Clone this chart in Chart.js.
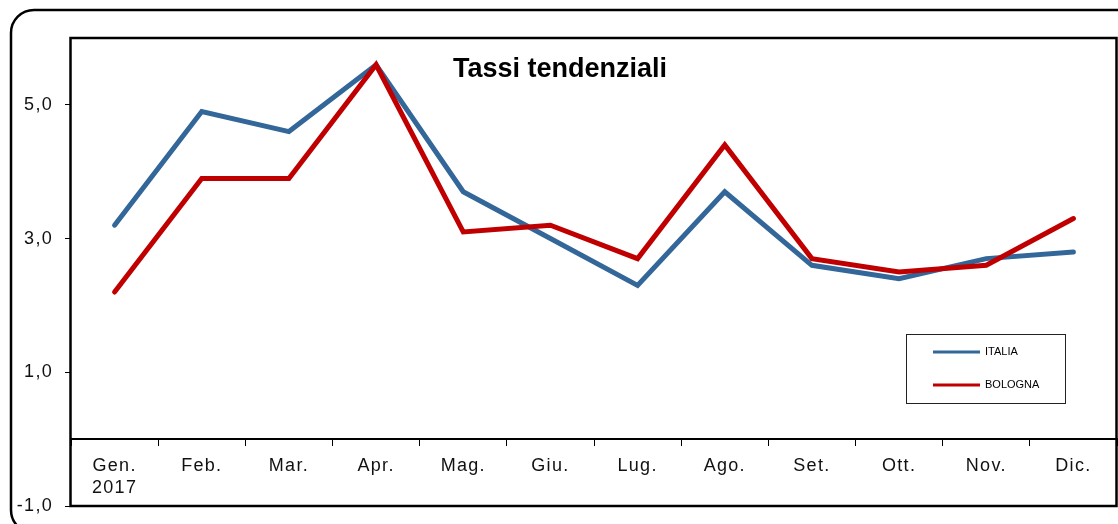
<!DOCTYPE html>
<html>
<head>
<meta charset="utf-8">
<script src="https://cdn.jsdelivr.net/npm/chart.js@4.4.0/dist/chart.umd.min.js"></script>
<style>
  body { margin: 0; background: #fff; }
  #wrap { width: 1118px; height: 524px; }
</style>
</head>
<body>
<div id="wrap"><canvas id="myChart" width="1118" height="524"></canvas></div>
<script>
const months = [['Gen.', '2017'], 'Feb.', 'Mar.', 'Apr.', 'Mag.', 'Giu.', 'Lug.', 'Ago.', 'Set.', 'Ott.', 'Nov.', 'Dic.'];
const italia = [3.2, 4.9, 4.6, 5.6, 3.7, 3.0, 2.3, 3.7, 2.6, 2.4, 2.7, 2.8];
const bologna = [2.2, 3.9, 3.9, 5.6, 3.1, 3.2, 2.7, 4.4, 2.7, 2.5, 2.6, 3.3];
const yTicks = [-1, 1, 3, 5];
const chartTitle = 'Tassi tendenziali';

const tickFont = { family: "'Liberation Sans', Arial, sans-serif", size: 18 };

// frame, rounded outer box, title and legend box
const decor = {
  id: 'decor',
  beforeDraw(chart) {
    const ctx = chart.ctx;
    ctx.save();
    ctx.fillStyle = '#fff';
    ctx.fillRect(0, 0, chart.width, chart.height);
    ctx.lineWidth = 2.5;
    ctx.strokeStyle = '#000';
    ctx.beginPath();
    ctx.roundRect(11, 10, 1140, 523, 23);
    ctx.stroke();
    ctx.restore();
    ctx.letterSpacing = '1.3px';
  },
  afterDraw(chart) {
    const ctx = chart.ctx;
    const a = chart.chartArea;
    ctx.save();
    ctx.letterSpacing = '0px';
    ctx.strokeStyle = '#000';
    ctx.lineWidth = 2.5;
    ctx.strokeRect(a.left - 0.5, a.top, a.right - a.left, a.bottom - a.top);

    ctx.fillStyle = '#000';
    ctx.font = "bold 27px 'Liberation Sans', Arial, sans-serif";
    ctx.textAlign = 'center';
    ctx.textBaseline = 'alphabetic';
    ctx.fillText(chartTitle, 560, 77);

    // legend
    ctx.fillStyle = '#fff';
    ctx.fillRect(907, 334, 159, 69);
    ctx.strokeStyle = '#222';
    ctx.lineWidth = 1;
    ctx.strokeRect(906.5, 334.5, 159, 69);
    ctx.font = "11px 'Liberation Sans', Arial, sans-serif";
    ctx.textAlign = 'left';
    ctx.textBaseline = 'middle';
    chart.data.datasets.forEach((ds, i) => {
      const y = 352 + i * 33;
      ctx.strokeStyle = ds.borderColor;
      ctx.lineWidth = 3;
      ctx.beginPath();
      ctx.moveTo(933, y);
      ctx.lineTo(980, y);
      ctx.stroke();
      ctx.fillStyle = '#000';
      ctx.fillText(ds.label, 985, y);
    });
    ctx.restore();
  }
};

const chartData = {
  labels: months,
  datasets: [{
    label: 'ITALIA',
    data: italia,
    borderColor: '#336699',
    borderWidth: 5,
    pointRadius: 0,
    tension: 0,
    borderCapStyle: 'round',
    order: 1
  }, {
    label: 'BOLOGNA',
    data: bologna,
    borderColor: '#C00000',
    borderWidth: 5,
    pointRadius: 0,
    tension: 0,
    borderCapStyle: 'round',
    order: 0
  }]
};

const ctx = document.getElementById('myChart').getContext('2d');
const myChart = new Chart(ctx, {
  type: 'line',
  data: chartData,
  plugins: [decor],
  options: {
    responsive: false,
    devicePixelRatio: 1,
    animation: false,
    layout: { padding: { top: 38, right: 1, bottom: 18, left: 0 } },
    plugins: {
      legend: { display: false },
      title: { display: false },
      tooltip: { enabled: false }
    },
    scales: {
      x: {
        type: 'category',
        position: { y: 0 },
        offset: true,
        grid: { offset: true, drawOnChartArea: false, drawTicks: true, tickLength: 6, color: '#000', lineWidth: 1 },
        border: { display: true, color: '#000', width: 2 },
        ticks: { font: tickFont, color: '#111', padding: 10, maxRotation: 0, autoSkip: false }
      },
      y: {
        min: -1,
        max: 6,
        afterBuildTicks: (scale) => { scale.ticks = yTicks.map(v => ({ value: v })); },
        afterFit: (scale) => {
          scale.width = 71;
          scale.paddingTop = 0;
          scale.paddingBottom = 0;
        },
        grid: { drawOnChartArea: false, drawTicks: true, tickLength: 6, color: '#000', lineWidth: 1 },
        border: { display: false },
        ticks: {
          font: tickFont,
          color: '#111',
          padding: 12,
          callback: (v) => v.toFixed(1).replace('.', ',')
        }
      }
    }
  }
});
</script>
</body>
</html>
